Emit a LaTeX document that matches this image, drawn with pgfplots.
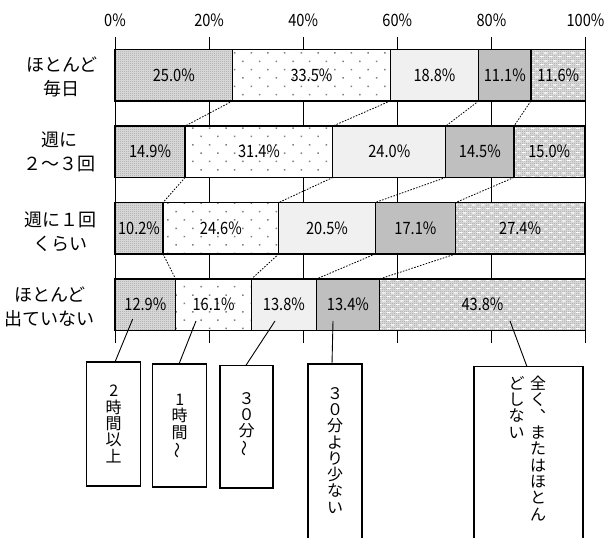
\documentclass[border=0pt]{standalone}
\usepackage{pgfplots}
\pgfplotsset{compat=1.18}
\usepackage{pgfplotstable}
\usepackage{fontspec}
\usepackage{graphicx}
\usetikzlibrary{patterns}
\setmainfont{Noto Sans CJK JP}
\newfontfamily\jp{Noto Sans CJK JP}
\newfontfamily\numfont[FakeStretch=0.86]{Noto Sans CJK JP}

\pgfdeclarepatternformonly{sparsedots}{\pgfqpoint{-1bp}{-1bp}}{\pgfqpoint{17.7bp}{17.7bp}}{\pgfqpoint{16.7bp}{16.7bp}}{%
  \pgfpathrectangle{\pgfqpoint{0bp}{0bp}}{\pgfqpoint{1.5bp}{1.5bp}}%
  \pgfpathrectangle{\pgfqpoint{8.35bp}{8.35bp}}{\pgfqpoint{1.5bp}{1.5bp}}%
  \pgfusepath{fill}}
\pgfdeclarepatternformonly{checker}{\pgfqpoint{0bp}{0bp}}{\pgfqpoint{2bp}{2bp}}{\pgfqpoint{2bp}{2bp}}{%
  \pgfpathrectangle{\pgfqpoint{0bp}{0bp}}{\pgfqpoint{1bp}{1bp}}%
  \pgfpathrectangle{\pgfqpoint{1bp}{1bp}}{\pgfqpoint{1bp}{1bp}}%
  \pgfusepath{fill}}
\pgfdeclarepatternformonly{whitedash}{\pgfqpoint{0bp}{0bp}}{\pgfqpoint{9bp}{8bp}}{\pgfqpoint{9bp}{8bp}}{%
  \pgfpathrectangle{\pgfqpoint{0bp}{1bp}}{\pgfqpoint{4bp}{1.2bp}}%
  \pgfpathrectangle{\pgfqpoint{4.5bp}{5bp}}{\pgfqpoint{4bp}{1.2bp}}%
  \pgfusepath{fill}}

\pgfplotstableread{
row v1 v2 v3 v4 v5
3 25.0 33.5 18.8 11.1 11.6
2 14.9 31.4 24.0 14.5 15.0
1 10.2 24.6 20.5 17.1 27.4
0 12.9 16.1 13.8 13.4 43.8
}\datatable

\newcommand{\numf}{\numfont\fontsize{17bp}{19bp}\selectfont}
\newcommand{\vfont}{\jp\fontsize{16bp}{16.3bp}\selectfont}
\newcommand{\vwave}{\rotatebox[origin=c]{90}{～}}

\begin{document}
\begin{tikzpicture}
\begin{axis}[
  scale only axis, width=470.5bp, height=306bp,
  xmin=0, xmax=100, ymin=-0.5, ymax=3.5, enlargelimits=false,
  xbar stacked, bar width=0.672,
  axis line style={draw=none},
  xtick={0,20,40,60,80,100},
  xticklabels={0\%,20\%,40\%,60\%,80\%,100\%},
  xticklabel pos=upper,
  xticklabel style={font=\numf, yshift=6.5bp},
  major tick length=0pt,
  ytick=\empty,
  xmajorgrids, grid style={black, line width=0.8bp},
  clip=false,
  seg/.style={draw=black, line width=1.3bp},
]
\addplot[seg, preaction={fill=black!13}, pattern=checker, pattern color=black!36] table[x=v1,y=row]{\datatable};
\addplot[seg, preaction={fill=white}, pattern=sparsedots, pattern color=black!50] table[x=v2,y=row]{\datatable};
\addplot[seg, fill=black!6] table[x=v3,y=row]{\datatable};
\addplot[seg, fill=black!25] table[x=v4,y=row]{\datatable};
\addplot[seg, preaction={fill=black!13}, preaction={pattern=checker, pattern color=black!36}, pattern=whitedash, pattern color=white] table[x=v5,y=row]{\datatable};
\end{axis}

\begin{axis}[
  scale only axis, width=470.5bp, height=306bp,
  xmin=0, xmax=100, ymin=-0.5, ymax=3.5, enlargelimits=false,
  hide axis, clip=false,
  conn/.style={black, line width=0.8bp, dash pattern=on 1.6bp off 1.4bp, forget plot},
  /pgf/number format/assume math mode=true,
  lab/.style={draw=none, mark=none, forget plot,
    nodes near coords={\pgfmathprintnumber[fixed,fixed zerofill,precision=1]{\pgfplotspointmeta}\%},
    every node near coord/.style={anchor=center, font=\numf, text=black, inner sep=0pt}},
]
\addplot[conn] coordinates {(25.0,2.664) (14.9,2.336)};
\addplot[conn] coordinates {(58.5,2.664) (46.3,2.336)};
\addplot[conn] coordinates {(77.3,2.664) (70.3,2.336)};
\addplot[conn] coordinates {(88.4,2.664) (84.8,2.336)};
\addplot[conn] coordinates {(14.9,1.664) (10.2,1.336)};
\addplot[conn] coordinates {(46.3,1.664) (34.8,1.336)};
\addplot[conn] coordinates {(70.3,1.664) (55.3,1.336)};
\addplot[conn] coordinates {(84.8,1.664) (72.4,1.336)};
\addplot[conn] coordinates {(10.2,0.664) (12.9,0.336)};
\addplot[conn] coordinates {(34.8,0.664) (29.0,0.336)};
\addplot[conn] coordinates {(55.3,0.664) (42.8,0.336)};
\addplot[conn] coordinates {(72.4,0.664) (56.2,0.336)};
\addplot[lab, point meta=\thisrow{v1}] table[x expr=\thisrow{v1}/2, y=row]{\datatable};
\addplot[lab, point meta=\thisrow{v2}] table[x expr=\thisrow{v1}+\thisrow{v2}/2, y=row]{\datatable};
\addplot[lab, point meta=\thisrow{v3}] table[x expr=\thisrow{v1}+\thisrow{v2}+\thisrow{v3}/2, y=row]{\datatable};
\addplot[lab, point meta=\thisrow{v4}] table[x expr=\thisrow{v1}+\thisrow{v2}+\thisrow{v3}+\thisrow{v4}/2, y=row]{\datatable};
\addplot[lab, point meta=\thisrow{v5}] table[x expr=\thisrow{v1}+\thisrow{v2}+\thisrow{v3}+\thisrow{v4}+\thisrow{v5}/2, y=row]{\datatable};
\end{axis}

% category labels
\begin{scope}[every node/.style={align=center, font=\jp\fontsize{18bp}{24bp}\selectfont}]
\node at (-53bp,266bp) {ほとんど\\毎日};
\node at (-55bp,191bp) {週に\\２～３回};
\node at (-54bp,111bp) {週に１回\\くらい};
\node at (-65bp,36bp) {ほとんど\\出ていない};
\end{scope}

% callouts
\begin{scope}[line width=0.9bp]
\draw (17.7bp,24bp) -- (0bp,-19bp);
\draw (81bp,22bp) -- (64bp,-21bp);
\draw (160bp,22bp) -- (130.7bp,-22.7bp);
\draw (218bp,22bp) -- (217bp,-21bp);
\draw (395bp,22bp) -- (412bp,-23.7bp);
\end{scope}
\begin{scope}[line width=1.3bp]
\draw[fill=white] (-28.3bp,-19bp) rectangle (25.7bp,-143bp);
\draw[fill=white] (37.7bp,-21bp) rectangle (91.7bp,-144bp);
\draw[fill=white] (105bp,-22.7bp) rectangle (158bp,-145bp);
\draw[fill=white] (193bp,-21bp) rectangle (247bp,-205bp);
\draw[fill=white] (359bp,-23.7bp) rectangle (468bp,-205bp);
\end{scope}
\begin{scope}[every node/.style={anchor=north, align=center, inner sep=0pt, font=\vfont}]
\node at (-1.3bp,-42bp) {2\\時\\間\\以\\上};
\node at (64.7bp,-51bp) {1\\時\\間\\\vwave};
\node at (131.5bp,-49bp) {３\\０\\分\\\vwave};
\node at (220bp,-44bp) {３\\０\\分\\よ\\り\\少\\な\\い};
\node at (423bp,-33bp) {全\\く\\︑\\ま\\た\\は\\ほ\\と\\ん};
\node at (401.7bp,-33bp) {ど\\し\\な\\い};
\end{scope}

\pgfresetboundingbox
\path (-115bp,-195bp) rectangle (489bp,343bp);
\end{tikzpicture}
\end{document}
